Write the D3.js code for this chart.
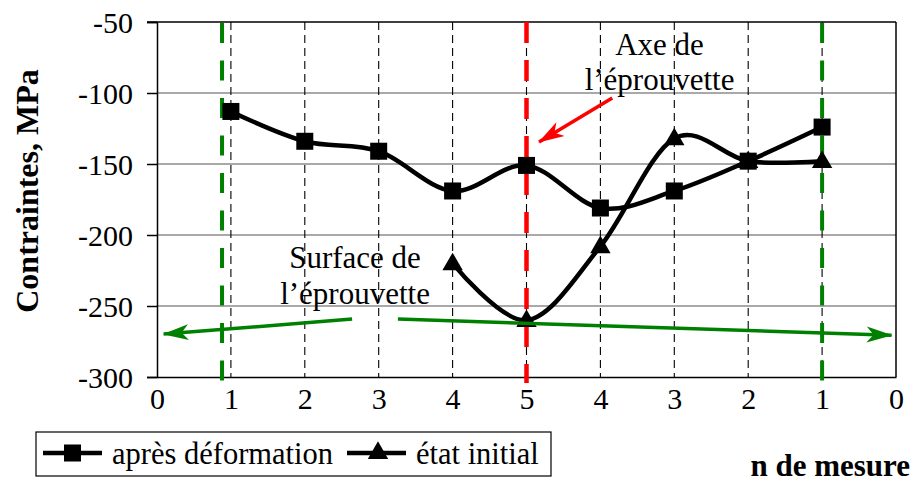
<!DOCTYPE html>
<html><head><meta charset="utf-8">
<script src="https://cdn.jsdelivr.net/npm/d3@7"></script>
<style>body{margin:0;background:#fff}svg{display:block}</style>
</head><body><svg id="c" width="917" height="483"></svg>
<script>
// ---- data ----
const positions = [0,1,2,3,4,5,6,7,8,9,10];
const tickLabels = ["0","1","2","3","4","5","4","3","2","1","0"];
const yTicks = [-300,-250,-200,-150,-100,-50];
const apresX = [1,2,3,4,5,6,7,8,9];
const apresY = [-113,-134,-141,-169,-151,-181,-169,-148,-124];
const initX = [4,5,6,7,8,9];
const initY = [-220,-260,-208,-132,-148,-148];
const seriesNames = ["après déformation","état initial"];
const greenLinesX = [0.88, 9];
const redLineX = [5];
const axeText = ["Axe de","l’éprouvette"];
const surfText = ["Surface de","l’éprouvette"];
const redArrow = [[6.16,-103.5],[5.17,-134.5]];
const greenArrows = [[[2.64,-259.2],[0.09,-269.8]],[[3.26,-259.2],[9.94,-270.6]]];
const yTitle = "Contraintes, MPa";
const xTitle = "n de mesure";

// ---- chart ----
const FONT = '"Liberation Serif", "Times New Roman", Tinos, serif';
const svg = d3.select("#c").style("font-family", FONT);
const x = d3.scaleLinear().domain([0,10]).range([157,896]);
const y = d3.scaleLinear().domain([-300,-50]).range([377,22]);

// horizontal grid
svg.append("g").selectAll("line").data(yTicks.filter(d=>d>-300&&d<-50)).join("line")
  .attr("x1",x(0)).attr("x2",x(10)).attr("y1",d=>y(d)).attr("y2",d=>y(d))
  .attr("stroke","#555").attr("stroke-width",1.2);
// vertical dashed grid
svg.append("g").selectAll("line").data(positions.filter(d=>d>0&&d<10)).join("line")
  .attr("x1",d=>x(d)).attr("x2",d=>x(d)).attr("y1",y(-50)).attr("y2",y(-300))
  .attr("stroke","#000").attr("stroke-width",1.1).attr("stroke-dasharray","8,5");

// y axis
const ya = d3.axisLeft(y).tickValues(yTicks).tickSize(10).tickFormat(d3.format("d"));
const yg = svg.append("g").attr("transform",`translate(${x(0)},0)`).call(ya).attr("font-family",null).attr("font-size",null);
yg.select(".domain").attr("stroke","#000").attr("stroke-width",1.5);
yg.selectAll(".tick line").attr("stroke","#000").attr("stroke-width",1.5);
yg.selectAll(".tick text").style("font-family",FONT).attr("font-size",30).attr("x",-24).attr("dy","0.36em").attr("fill","#000").text(d=>String(d));

// x axis
const xa = d3.axisBottom(x).tickValues(positions).tickSize(0).tickFormat((d,i)=>tickLabels[i]);
const xg = svg.append("g").attr("transform",`translate(0,${y(-300)})`).call(xa).attr("font-family",null).attr("font-size",null);
xg.select(".domain").attr("stroke","#000").attr("stroke-width",1.5);
xg.selectAll(".tick text").style("font-family",FONT).attr("font-size",30).attr("fill","#000").attr("y",11);
// top & right border
svg.append("line").attr("x1",x(0)-10).attr("x2",x(10)).attr("y1",y(-50)).attr("y2",y(-50)).attr("stroke","#000").attr("stroke-width",1.5);
svg.append("line").attr("x1",x(10)).attr("x2",x(10)).attr("y1",y(-50)).attr("y2",y(-300)).attr("stroke","#000").attr("stroke-width",1.5);

// green / red dashed verticals
svg.append("g").selectAll("line").data(greenLinesX).join("line")
  .attr("x1",d=>x(d)).attr("x2",d=>x(d)).attr("y1",y(-50)+1).attr("y2",y(-300)+6)
  .attr("stroke","#008000").attr("stroke-width",4).attr("stroke-dasharray","20,17.5");
svg.append("g").selectAll("line").data(redLineX).join("line")
  .attr("x1",d=>x(d)).attr("x2",d=>x(d)).attr("y1",y(-50)).attr("y2",y(-300)+6)
  .attr("stroke","#ff0000").attr("stroke-width",4.5).attr("stroke-dasharray","21,17");

// markers for arrows
const defs = svg.append("defs");
function mk(id,color){
  defs.append("marker").attr("id",id).attr("viewBox","0 0 26 18").attr("refX",25).attr("refY",9)
    .attr("markerWidth",26).attr("markerHeight",18).attr("markerUnits","userSpaceOnUse").attr("orient","auto")
    .append("path").attr("d","M0,1 L26,9 L0,17 L7,9 Z").attr("fill",color);
}
mk("ag","#008000"); mk("ar","#ff0000");

// lines
const line = d3.line().x(d=>x(d[0])).y(d=>y(d[1])).curve(d3.curveCardinal.tension(0));
const apres = apresX.map((d,i)=>[d,apresY[i]]);
const init = initX.map((d,i)=>[d,initY[i]]);
svg.append("path").datum(init).attr("d",line).attr("fill","none").attr("stroke","#000").attr("stroke-width",4.5);
svg.append("path").datum(apres).attr("d",line).attr("fill","none").attr("stroke","#000").attr("stroke-width",4.5);

const tri = d3.symbol().type(d3.symbolTriangle).size(180);
svg.append("g").selectAll("path").data(init).join("path")
  .attr("d",tri).attr("transform",d=>`translate(${x(d[0])},${y(d[1])+1})`).attr("fill","#000");
svg.append("g").selectAll("rect").data(apres).join("rect")
  .attr("x",d=>x(d[0])-8.5).attr("y",d=>y(d[1])-8.5).attr("width",17).attr("height",17).attr("fill","#000");

// green arrows
svg.append("g").selectAll("line").data(greenArrows).join("line")
  .attr("x1",d=>x(d[0][0])).attr("y1",d=>y(d[0][1])).attr("x2",d=>x(d[1][0])).attr("y2",d=>y(d[1][1]))
  .attr("stroke","#008000").attr("stroke-width",3.5).attr("marker-end","url(#ag)");
// red arrow
svg.append("line").datum(redArrow)
  .attr("x1",d=>x(d[0][0])).attr("y1",d=>y(d[0][1])).attr("x2",d=>x(d[1][0])).attr("y2",d=>y(d[1][1]))
  .attr("stroke","#ff0000").attr("stroke-width",3.5).attr("marker-end","url(#ar)");

// annotation texts
svg.append("g").selectAll("text").data(axeText).join("text")
  .attr("x",x(6.8)).attr("y",(d,i)=>[55,90][i]).attr("text-anchor","middle").attr("font-size",31).text(d=>d);
svg.append("g").selectAll("text").data(surfText).join("text")
  .attr("x",x(2.68)).attr("y",(d,i)=>[268,304][i]).attr("text-anchor","middle").attr("font-size",31).text(d=>d);

// axis titles
svg.append("text").attr("transform","translate(38,191) rotate(-90)").attr("text-anchor","middle")
  .attr("font-size",32).attr("font-weight","bold").text(yTitle);
svg.append("text").attr("x",910).attr("y",476).attr("text-anchor","end")
  .attr("font-size",31).attr("font-weight","bold").text(xTitle);

// legend
const lg = svg.append("g");
lg.append("rect").attr("x",36).attr("y",432).attr("width",515).attr("height",44).attr("fill","#fff").attr("stroke","#000").attr("stroke-width",1.2);
const legX = [43,347];
const items = lg.selectAll("g.it").data(seriesNames).join("g").attr("class","it")
  .attr("transform",(d,i)=>`translate(${legX[i]},453)`);
items.append("line").attr("x1",0).attr("x2",59).attr("y1",0).attr("y2",0).attr("stroke","#000").attr("stroke-width",4.5);
items.filter((d,i)=>i===0).append("rect").attr("x",21).attr("y",-8.5).attr("width",17).attr("height",17).attr("fill","#000");
items.filter((d,i)=>i===1).append("path").attr("d",tri).attr("transform","translate(31,0)").attr("fill","#000");
items.append("text").attr("x",69).attr("y",11).attr("font-size",30.5).text(d=>d);
</script></body></html>
